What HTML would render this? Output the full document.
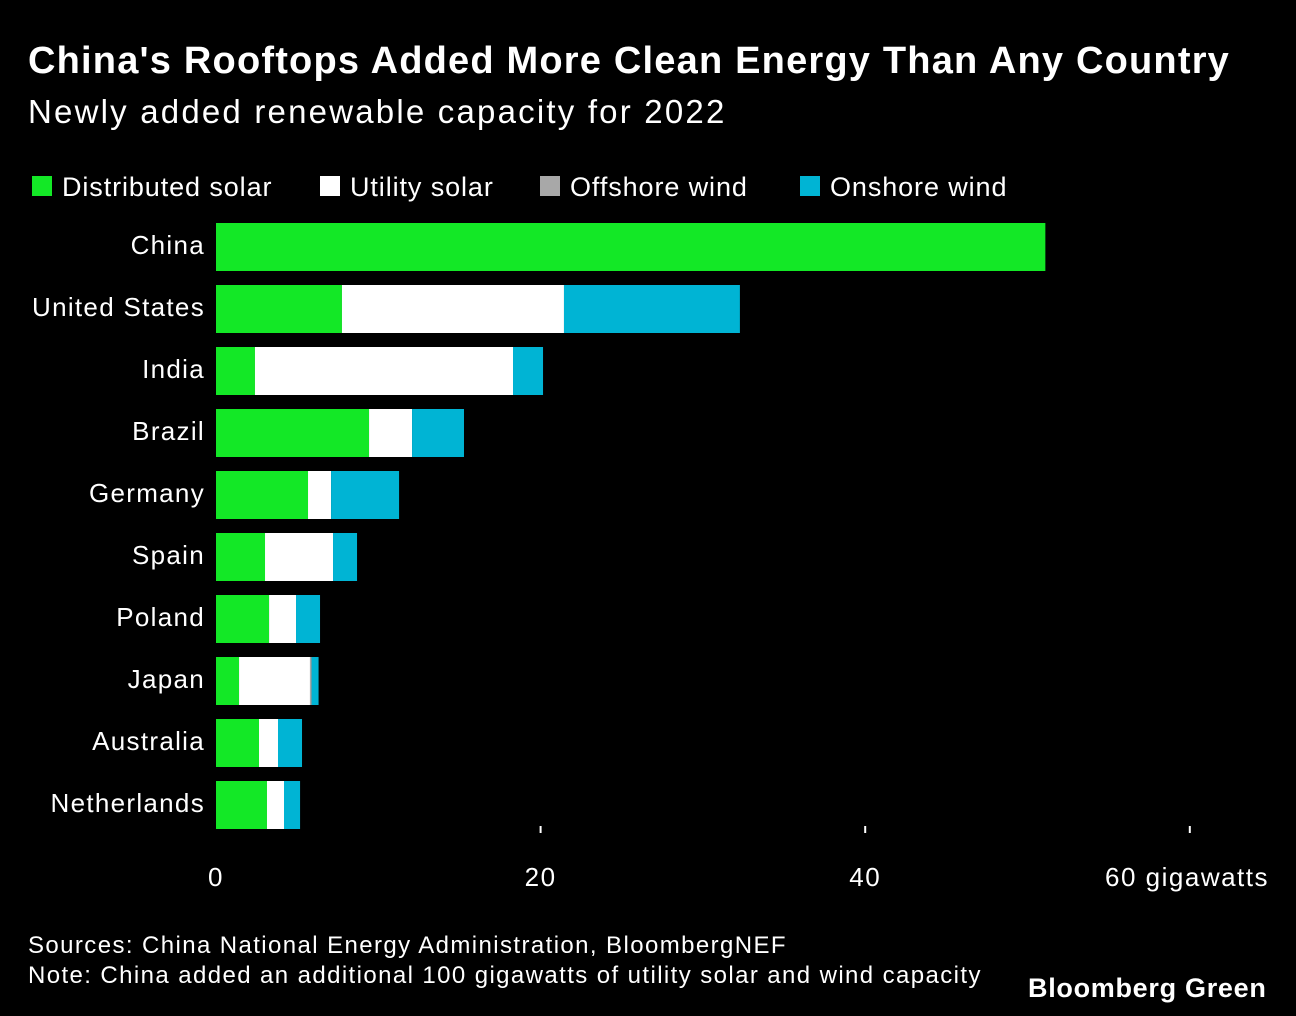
<!DOCTYPE html>
<html><head><meta charset="utf-8"><style>
body{margin:0;background:#000;width:1296px;height:1016px;overflow:hidden;font-family:"Liberation Sans",sans-serif;color:#fff}
.t{position:absolute;white-space:nowrap}
</style></head><body>
<div class="t" style="left:28px;top:40px;font-size:38px;font-weight:bold;letter-spacing:1.2px">China's Rooftops Added More Clean Energy Than Any Country</div>
<div class="t" style="left:28px;top:93px;font-size:33px;letter-spacing:2.2px">Newly added renewable capacity for 2022</div>
<svg id="c" width="1296" height="1016" style="position:absolute;left:0;top:0"></svg>
<div class="t" style="left:28px;top:931px;font-size:24px;line-height:30px;letter-spacing:1.4px">Sources: China National Energy Administration, BloombergNEF<br>Note: China added an additional 100 gigawatts of utility solar and wind capacity</div>
<div class="t" style="left:1028px;top:973px;font-size:27px;font-weight:bold;letter-spacing:0.7px">Bloomberg Green</div>
<script>
const countries=["China","United States","India","Brazil","Germany","Spain","Poland","Japan","Australia","Netherlands"];
const distributedSolar=[51.1,7.76,2.4,9.43,5.67,3.02,3.27,1.42,2.65,3.14];
const utilitySolar=[0,13.68,15.9,2.65,1.42,4.19,1.66,4.37,1.17,1.05];
const offshoreWind=[0,0,0,0,0,0,0,0.1,0,0];
const onshoreWind=[0,10.84,1.85,3.2,4.19,1.48,1.48,0.43,1.48,0.99];
const ticks=[0,20,40,60];
const tickLabels=["0","20","40","60 gigawatts"];
const seriesNames=["Distributed solar","Utility solar","Offshore wind","Onshore wind"];
const colors=["#13e826","#ffffff","#a8a8a8","#00b4d4"];
const series=[distributedSolar,utilitySolar,offshoreWind,onshoreWind];
const svg=document.getElementById('c');const NS="http://www.w3.org/2000/svg";
const x=v=>216+v*16.23;const yTop=i=>223+i*62;const bh=48;
function mk(t,a){const e=document.createElementNS(NS,t);for(const k in a)e.setAttribute(k,a[k]);svg.appendChild(e);return e;}
const legX=[32,320,540,800];
seriesNames.forEach((n,i)=>{
 const r=mk('rect',{x:legX[i],y:176,width:20,height:20,fill:colors[i]});
 
 
 const t=mk('text',{x:legX[i]+30,y:196,fill:'#fff','font-size':27,'letter-spacing':0.9,'font-family':'Liberation Sans, sans-serif'});t.textContent=n;
 
 
});
countries.forEach((c,i)=>{
 const t=mk('text',{x:205,y:yTop(i)+bh/2+7,fill:'#fff','font-size':26,'letter-spacing':1.3,'text-anchor':'end','font-family':'Liberation Sans, sans-serif'});t.textContent=c;
 
 
 let acc=0;
 series.forEach((s,j)=>{
  const v=s[i];if(v<=0)return;
  const r=mk('rect',{x:x(acc),y:yTop(i),width:x(acc+v)-x(acc),height:bh,fill:colors[j]});
  
  
  acc+=v;
 });
});
ticks.forEach((v,i)=>{
 if(v>0){const l=mk('line',{x1:x(v),x2:x(v),y1:826,y2:833,stroke:'#fff','stroke-width':2});
 
 }
 const t=mk('text',{x:i==3?1269:x(v),y:886,fill:'#fff','font-size':26,'letter-spacing':1.5,'text-anchor':i==3?'end':'middle','font-family':'Liberation Sans, sans-serif'});t.textContent=tickLabels[i];
 
 
});
</script>
</body></html>
